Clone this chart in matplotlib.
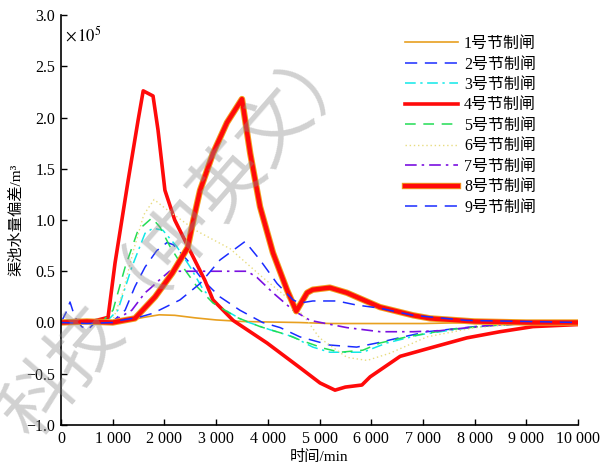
import matplotlib
matplotlib.use("Agg")
import matplotlib.pyplot as plt
import matplotlib.patheffects as pe
from matplotlib.ticker import FuncFormatter, MultipleLocator

plt.rcParams['font.family'] = ['Liberation Serif', 'Noto Sans CJK SC']
plt.rcParams['mathtext.fontset'] = 'stix'

# 渠池水量偏差 (单位 1e5 m^3) 随时间变化, 每个节制闸一组 (t, v)
t1 = [0, 500, 1000, 1300, 1600, 1900, 2200, 2600, 3000, 3500, 4000, 4600, 5200, 6000, 7000, 8000, 9000, 10000]
v1 = [0, 0, 0, 0.02, 0.05, 0.075, 0.07, 0.045, 0.025, 0.01, 0.005, 0, -0.01, -0.01, -0.01, 0, 0, 0]

t2 = [0, 100, 174, 270, 400, 520, 620, 800, 1000, 1240, 1430, 1625, 1850, 2050, 2170, 2440, 2750,
      3075, 3460, 3900, 4240, 4620, 5200, 5720, 6110, 6620, 7080, 8000, 9000, 10000]
v2 = [0, 0.1, 0.2, 0.05, -0.04, -0.07, -0.02, 0, 0.01, 0.12, 0.35, 0.54, 0.7, 0.78, 0.76, 0.61, 0.41,
      0.25, 0.12, 0.0, -0.05, -0.14, -0.22, -0.24, -0.2, -0.14, -0.09, -0.04, -0.01, 0]

t3 = [0, 500, 900, 1100, 1370, 1625, 1780, 1970, 2240, 2500, 2750, 3075, 3520, 4040, 4490, 4870,
      5200, 5840, 6300, 6940, 7600, 8300, 9000, 10000]
v3 = [0, 0, 0.02, 0.12, 0.54, 0.87, 0.92, 0.9, 0.74, 0.54, 0.32, 0.15, 0.02, -0.07, -0.14, -0.24,
      -0.29, -0.29, -0.2, -0.12, -0.07, -0.03, -0.01, 0]

t4 = [0, 300, 600, 910, 1045, 1300, 1490, 1590, 1780, 1876, 2010, 2200, 2456, 2785, 2940, 3330,
      3985, 4620, 5010, 5300, 5500, 5820, 5980, 6560, 7200, 7850, 8490, 9130, 10000]
v4 = [0, 0.02, 0.01, 0.05, 0.58, 1.39, 1.97, 2.26, 2.21, 1.88, 1.29, 1.0, 0.74, 0.41, 0.22, 0.02,
      -0.2, -0.44, -0.59, -0.66, -0.63, -0.61, -0.53, -0.33, -0.24, -0.15, -0.09, -0.04, -0.02]

t5 = [0, 500, 800, 1006, 1240, 1490, 1760, 1915, 2110, 2360, 2630, 2940, 3400, 3850, 4370, 4620,
      5070, 5400, 5840, 6170, 6690, 7500, 8300, 9000, 10000]
v5 = [0, 0, 0.01, 0.12, 0.54, 0.9, 1.02, 0.93, 0.74, 0.54, 0.35, 0.19, 0.05, -0.04, -0.12, -0.17,
      -0.25, -0.29, -0.27, -0.2, -0.14, -0.07, -0.03, -0.01, 0]

t6 = [0, 600, 1000, 1200, 1400, 1600, 1800, 2000, 2600, 3270, 3900, 4430, 4760, 5000, 5530, 5920,
      6360, 7080, 8000, 9000, 10000]
v6 = [0, 0, 0.02, 0.3, 0.7, 1.05, 1.2, 1.12, 0.9, 0.72, 0.44, 0.22, 0.02, -0.15, -0.34, -0.37,
      -0.3, -0.14, -0.05, -0.01, 0]

t7 = [0, 600, 1000, 1370, 1625, 1720, 1915, 2100, 3600, 3790, 4100, 4490, 4820, 5530, 6170, 6810,
      7330, 8240, 9000, 10000]
v7 = [0, 0, 0.01, 0.12, 0.29, 0.33, 0.42, 0.5, 0.5, 0.44, 0.29, 0.12, 0.02, -0.05, -0.09, -0.09,
      -0.08, -0.03, -0.01, 0]

t8 = [0, 500, 1000, 1430, 1820, 2150, 2450, 2560, 2690, 2940, 3210, 3500, 3660, 3850, 4100, 4370,
      4550, 4760, 4870, 5200, 5530, 6170, 6810, 7140, 8000, 9000, 10000]
v8 = [0, 0.01, 0.0, 0.04, 0.25, 0.48, 0.73, 1.0, 1.29, 1.65, 1.95, 2.18, 1.65, 1.13, 0.68, 0.32,
      0.11, 0.29, 0.32, 0.34, 0.29, 0.15, 0.07, 0.04, 0.01, 0.0, 0.0]

t9 = [0, 500, 1000, 1140, 1500, 1780, 2300, 2690, 3075, 3560, 3850, 4180, 4490, 4620, 4870, 5340,
      5720, 6170, 6810, 7850, 9000, 10000]
v9 = [0, -0.01, 0, 0.02, 0.05, 0.09, 0.22, 0.38, 0.61, 0.79, 0.61, 0.38, 0.22, 0.19, 0.21, 0.21,
      0.17, 0.14, 0.07, 0.02, 0.01, 0.0]

labels = ['1号节制闸', '2号节制闸', '3号节制闸', '4号节制闸', '5号节制闸',
          '6号节制闸', '7号节制闸', '8号节制闸', '9号节制闸']

fig = plt.figure(figsize=(6.15, 4.68), dpi=100)
ax = fig.add_axes([61 / 615, 43 / 468, 517 / 615, 410 / 468])

ax.plot(t1, v1, color='#e8a020', lw=1.2, label=labels[0])
ax.plot(t2, v2, color='#1a2cff', lw=1.1, dashes=(8, 5), label=labels[1])
ax.plot(t3, v3, color='#10e8e8', lw=1.1, dashes=(7, 3, 1.5, 3), label=labels[2])
ax.plot(t4, v4, color='#ff0a0a', lw=2.6, label=labels[3])
ax.plot(t5, v5, color='#22dd55', lw=1.1, dashes=(7, 5), label=labels[4])
ax.plot(t6, v6, color='#e8dc80', lw=1.0, dashes=(1, 2), label=labels[5])
ax.plot(t7, v7, color='#7a10e0', lw=1.2, dashes=(7, 3, 1.5, 3), label=labels[6])
ax.plot(t8, v8, color='#ff0a0a', lw=3.2, label=labels[7],
        path_effects=[pe.Stroke(linewidth=4.6, foreground='#f0a020'), pe.Normal()])
ax.plot(t9, v9, color='#1a2cff', lw=1.1, dashes=(8, 5), label=labels[8])

ax.set_xlim(0, 10000)
ax.set_ylim(-1.0, 3.0)
ax.xaxis.set_major_locator(MultipleLocator(1000))
ax.yaxis.set_major_locator(MultipleLocator(0.5))
ax.xaxis.set_major_formatter(FuncFormatter(lambda v, p: f"{int(v):,}".replace(",", " ")))
ax.yaxis.set_major_formatter(FuncFormatter(lambda v, p: f"{v:.1f}".replace("-", "\u2212")))
ax.tick_params(direction='in', length=4, width=1, labelsize=11.5, pad=4)

for s in ['top', 'right']:
    ax.spines[s].set_visible(False)
for s in ['left', 'bottom']:
    ax.spines[s].set_linewidth(1.2)

ax.set_xlabel('时间/min', fontsize=11)
ax.set_ylabel('渠池水量偏差/m³', fontsize=11)
ax.xaxis.set_label_coords(0.5, -0.062)
ax.yaxis.set_label_coords(-0.072, 0.5)

ax.text(0.008, 0.975, r'$\times\,10^{5}$', transform=ax.transAxes, fontsize=12, va='top', ha='left')

ax.legend(loc='upper left', bbox_to_anchor=((405 - 61) / 517, (425 - 36) / 410), frameon=False,
          fontsize=11.5, handlelength=3.3, handletextpad=0.4, labelspacing=0.28,
          borderpad=0, borderaxespad=0)

# 水印
fig.text(182 / 615, 1 - 236 / 468, '科技（中英文）', rotation=49, fontsize=52,
         family='Noto Sans CJK SC', color='0.55', alpha=0.4, ha='center', va='center', zorder=10)

fig.savefig('out.png', dpi=100)
